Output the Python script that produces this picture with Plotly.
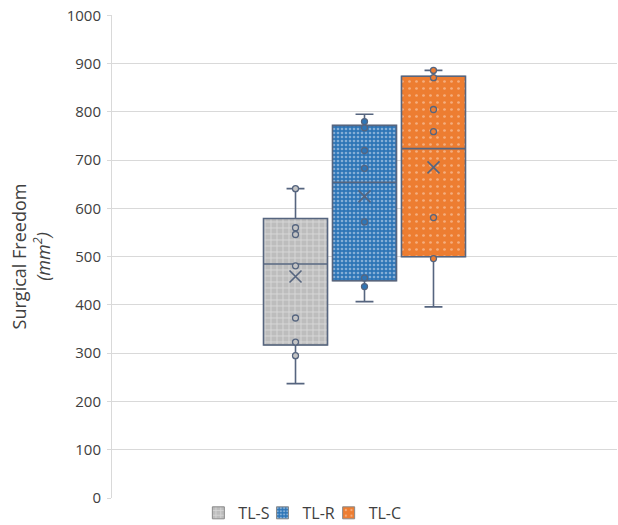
import numpy as np
import plotly.graph_objects as go

# ---- data ----
series = ["TL-S", "TL-R", "TL-C"]
lower_whisker = [237, 407, 396]
q1_values = [317, 450, 500]
medians = [485, 654, 724]
q3_values = [579, 772, 874]
upper_whisker = [641, 795, 886]
means = [459, 625, 685]
points_tls = [641, 560, 546, 481, 373, 323, 295]
points_tlr = [780, 767, 720, 683, 572, 456, 438]
points_tlc = [886, 871, 805, 759, 581, 496]
all_points = [points_tls, points_tlr, points_tlc]
y_ticks = list(range(0, 1001, 100))

# ---- styles ----
fill_colors = ["#c4c4c4", "#2e75b6", "#ed7d31"]
patterns = [
    dict(shape="+", fgcolor="#f2f2f2", bgcolor="#bdbdbd", size=6, solidity=0.3),
    dict(shape=".", fgcolor="#dce8f5", bgcolor="#2e75b6", size=4, solidity=0.35),
    dict(shape=".", fgcolor="#fbe0cc", bgcolor="#ed7d31", size=7, solidity=0.12),
]
legend_x = [0.171, 0.298, 0.429]   # left edge of each legend entry (paper fraction)
line_col = "#56657f"
box_w = 0.928

n = len(series)
positions = np.arange(n) - (n - 1) / 2
legend_ids = ["legend", "legend2", "legend3"]

fig = go.Figure()

# patterned box bodies (also provide legend swatches)
for i, name in enumerate(series):
    fig.add_trace(go.Bar(
        x=[positions[i]], y=[q3_values[i] - q1_values[i]], base=[q1_values[i]],
        width=box_w, name=name, showlegend=True, legend=legend_ids[i],
        marker=dict(color=fill_colors[i], pattern=patterns[i],
                    line=dict(color="#8a8a8a", width=1)),
        hoverinfo="skip",
    ))

# box outlines, medians, whiskers
for i, name in enumerate(series):
    fig.add_trace(go.Box(
        x=[positions[i]], q1=[q1_values[i]], median=[medians[i]], q3=[q3_values[i]],
        lowerfence=[lower_whisker[i]], upperfence=[upper_whisker[i]],
        width=box_w, whiskerwidth=0.28, fillcolor="rgba(0,0,0,0)",
        line=dict(color=line_col, width=1.6), showlegend=False, name=name,
        boxpoints=False,
    ))

# inner points
for i, name in enumerate(series):
    fig.add_trace(go.Scatter(
        x=[positions[i]] * len(all_points[i]), y=all_points[i], mode="markers",
        marker=dict(symbol="circle", size=6, color=fill_colors[i],
                    line=dict(color=line_col, width=1.3)),
        showlegend=False, hoverinfo="y",
    ))

# mean markers
fig.add_trace(go.Scatter(
    x=positions, y=means, mode="markers",
    marker=dict(symbol="x-thin-open", size=12, color=line_col,
                line=dict(color=line_col, width=1.6)),
    showlegend=False, hoverinfo="y",
))

legend_common = dict(orientation="h", xref="paper", xanchor="left",
                     yref="container", y=0.023, yanchor="middle",
                     font=dict(size=16, color="#404040"), itemwidth=30,
                     bgcolor="rgba(0,0,0,0)")

fig.update_layout(
    width=618, height=525,
    margin=dict(l=112, r=1, t=15, b=27, autoexpand=False),
    paper_bgcolor="white", plot_bgcolor="white",
    barmode="overlay",
    font=dict(family="Open Sans, Liberation Sans, sans-serif", color="#404040", size=15),
    legend=dict(legend_common, x=legend_x[0]),
    legend2=dict(legend_common, x=legend_x[1]),
    legend3=dict(legend_common, x=legend_x[2]),
)
fig.update_xaxes(range=[-3.66, 3.66], showticklabels=False, showgrid=False,
                 zeroline=False, showline=False, ticks="")
fig.update_yaxes(
    range=[0, 1000.8], tickvals=y_ticks, showgrid=True, gridcolor="#d9d9d9", gridwidth=1,
    zeroline=False, showline=True, linecolor="#d9d9d9", linewidth=1,
    ticks="outside", ticklen=4, tickcolor="#d9d9d9", ticklabelstandoff=3,
    tickfont=dict(size=15, color="#404040"),
    title=dict(text="Surgical Freedom<br><i>(mm<sup>2</sup>)</i>",
               font=dict(size=18, color="#404040"), standoff=11),
)

fig.write_html("out.html", config={"displayModeBar": False},
               post_script="document.body.style.margin='0';document.body.style.overflow='hidden';")
